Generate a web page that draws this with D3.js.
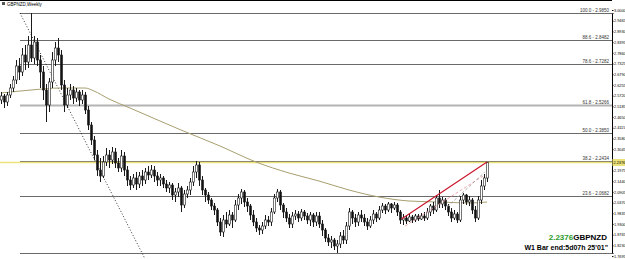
<!DOCTYPE html>
<html>
<head>
<meta charset="utf-8">
<script src="https://cdn.jsdelivr.net/npm/d3@7"></script>
<style>
  html, body { margin: 0; padding: 0; background: #fff; }
  svg { display: block; font-family: "Liberation Sans", Arial, sans-serif; }
</style>
</head>
<body>
<div id="chart"></div>
<script>
const symbol = "GBPNZD";
const timeframe = "Weekly";

// weekly bars, oldest first
const barOpen = [
  2.550, 2.570, 2.540, 2.575, 2.610, 2.650, 2.720, 2.690, 2.775, 2.740,
  2.825, 2.760, 2.840, 2.750, 2.690, 2.600, 2.525, 2.640, 2.750, 2.810,
  2.775, 2.625, 2.525, 2.575, 2.600, 2.560, 2.590, 2.550, 2.575, 2.500,
  2.425, 2.350, 2.275, 2.200, 2.170, 2.240, 2.275, 2.250, 2.290, 2.235,
  2.210, 2.270, 2.200, 2.150, 2.125, 2.160, 2.130, 2.170, 2.150, 2.190,
  2.175, 2.200, 2.170, 2.150, 2.160, 2.130, 2.110, 2.125, 2.075, 2.090,
  2.110, 2.025, 2.080, 2.100, 2.140, 2.190, 2.225, 2.150, 2.100, 2.075,
  2.050, 2.020, 2.000, 1.940, 1.890, 1.950, 1.930, 1.975, 1.950, 2.025,
  2.060, 2.090, 2.040, 2.020, 1.975, 1.940, 1.910, 1.900, 1.920, 1.950,
  1.940, 1.990, 2.060, 2.090, 2.025, 1.990, 1.960, 1.930, 1.970, 1.980,
  1.960, 1.990, 1.970, 1.950, 1.975, 1.940, 1.970, 1.930, 1.900, 1.860,
  1.840, 1.850, 1.820, 1.830, 1.870, 1.850, 1.920, 1.990, 1.960, 1.940,
  1.975, 1.960, 1.940, 1.920, 1.950, 1.980, 1.960, 2.000, 2.020, 2.000,
  2.030, 2.010, 2.025, 1.990, 1.950, 1.960, 1.945, 1.965, 1.950, 1.970,
  1.955, 1.970, 1.960, 1.990, 2.020, 2.000, 2.060, 2.030, 2.050, 2.020,
  1.990, 1.960, 1.980, 1.950, 2.050, 2.075, 2.040, 2.050, 2.000, 1.960,
  2.050, 2.120, 2.160
];
const barHigh = [
  2.590, 2.580, 2.590, 2.630, 2.670, 2.750, 2.760, 2.810, 2.825, 2.870,
  2.985, 2.870, 2.860, 2.775, 2.720, 2.630, 2.660, 2.790, 2.840, 2.860,
  2.800, 2.650, 2.610, 2.630, 2.620, 2.610, 2.600, 2.600, 2.590, 2.520,
  2.440, 2.370, 2.300, 2.260, 2.270, 2.310, 2.300, 2.315, 2.310, 2.260,
  2.300, 2.290, 2.220, 2.170, 2.180, 2.190, 2.190, 2.200, 2.210, 2.220,
  2.225, 2.220, 2.190, 2.180, 2.170, 2.150, 2.140, 2.135, 2.110, 2.135,
  2.120, 2.100, 2.120, 2.160, 2.220, 2.245, 2.240, 2.170, 2.110, 2.090,
  2.060, 2.035, 2.010, 1.960, 1.975, 1.990, 2.000, 1.990, 2.050, 2.080,
  2.105, 2.100, 2.060, 2.030, 2.000, 1.960, 1.925, 1.940, 1.975, 1.970,
  2.010, 2.080, 2.105, 2.100, 2.035, 2.010, 1.980, 1.990, 2.000, 1.995,
  2.005, 2.000, 1.985, 1.990, 1.985, 1.990, 1.990, 1.950, 1.910, 1.880,
  1.870, 1.860, 1.850, 1.890, 1.900, 1.940, 2.010, 2.000, 1.980, 1.990,
  2.000, 1.980, 1.960, 1.970, 2.000, 1.990, 2.020, 2.035, 2.030, 2.040,
  2.035, 2.040, 2.035, 2.000, 1.980, 1.975, 1.980, 1.975, 1.980, 1.980,
  1.985, 1.990, 2.010, 2.030, 2.040, 2.075, 2.100, 2.065, 2.060, 2.030,
  2.010, 2.000, 1.990, 2.070, 2.085, 2.080, 2.070, 2.060, 2.020, 2.070,
  2.150, 2.180, 2.240
];
const barLow = [
  2.530, 2.510, 2.520, 2.560, 2.590, 2.630, 2.650, 2.670, 2.700, 2.710,
  2.740, 2.730, 2.720, 2.610, 2.550, 2.440, 2.490, 2.610, 2.720, 2.740,
  2.600, 2.490, 2.510, 2.550, 2.530, 2.540, 2.520, 2.530, 2.480, 2.400,
  2.325, 2.250, 2.170, 2.140, 2.160, 2.220, 2.210, 2.230, 2.210, 2.190,
  2.190, 2.170, 2.120, 2.100, 2.110, 2.100, 2.110, 2.120, 2.130, 2.150,
  2.160, 2.140, 2.120, 2.120, 2.110, 2.090, 2.085, 2.050, 2.040, 2.065,
  1.990, 2.010, 2.060, 2.075, 2.120, 2.160, 2.120, 2.075, 2.040, 2.030,
  2.000, 1.975, 1.920, 1.870, 1.865, 1.910, 1.920, 1.910, 1.940, 2.000,
  2.030, 2.015, 1.990, 1.950, 1.920, 1.890, 1.875, 1.880, 1.905, 1.920,
  1.920, 1.980, 2.040, 2.000, 1.960, 1.940, 1.910, 1.910, 1.950, 1.940,
  1.945, 1.950, 1.930, 1.920, 1.915, 1.920, 1.910, 1.870, 1.840, 1.820,
  1.810, 1.800, 1.785, 1.810, 1.830, 1.830, 1.900, 1.930, 1.915, 1.920,
  1.940, 1.920, 1.900, 1.910, 1.930, 1.940, 1.950, 1.985, 1.980, 1.990,
  1.985, 2.000, 1.970, 1.930, 1.925, 1.930, 1.940, 1.935, 1.940, 1.945,
  1.950, 1.945, 1.950, 1.970, 1.980, 1.990, 2.010, 2.010, 2.000, 1.970,
  1.940, 1.950, 1.935, 1.940, 2.030, 2.025, 2.020, 1.980, 1.940, 1.950,
  2.030, 2.100, 2.140
];
const barClose = [
  2.570, 2.540, 2.575, 2.610, 2.650, 2.720, 2.690, 2.775, 2.740, 2.825,
  2.760, 2.840, 2.750, 2.690, 2.600, 2.525, 2.640, 2.750, 2.810, 2.775,
  2.625, 2.525, 2.575, 2.600, 2.560, 2.590, 2.550, 2.575, 2.500, 2.425,
  2.350, 2.275, 2.200, 2.170, 2.240, 2.275, 2.250, 2.290, 2.235, 2.210,
  2.270, 2.200, 2.150, 2.125, 2.160, 2.130, 2.170, 2.150, 2.190, 2.175,
  2.200, 2.170, 2.150, 2.160, 2.130, 2.110, 2.125, 2.075, 2.090, 2.110,
  2.025, 2.080, 2.100, 2.140, 2.190, 2.225, 2.150, 2.100, 2.075, 2.050,
  2.020, 2.000, 1.940, 1.890, 1.950, 1.930, 1.975, 1.950, 2.025, 2.060,
  2.090, 2.040, 2.020, 1.975, 1.940, 1.910, 1.900, 1.920, 1.950, 1.940,
  1.990, 2.060, 2.090, 2.025, 1.990, 1.960, 1.930, 1.970, 1.980, 1.960,
  1.990, 1.970, 1.950, 1.975, 1.940, 1.970, 1.930, 1.900, 1.860, 1.840,
  1.850, 1.820, 1.830, 1.870, 1.850, 1.920, 1.990, 1.960, 1.940, 1.975,
  1.960, 1.940, 1.920, 1.950, 1.980, 1.960, 2.000, 2.020, 2.000, 2.030,
  2.010, 2.025, 1.990, 1.950, 1.960, 1.945, 1.965, 1.950, 1.970, 1.955,
  1.970, 1.960, 1.990, 2.020, 2.000, 2.060, 2.030, 2.050, 2.020, 1.990,
  1.960, 1.980, 1.950, 2.050, 2.075, 2.040, 2.050, 2.000, 1.960, 2.050,
  2.120, 2.160, 2.2376
];

// 200 period moving average, read at a few bars
const maBars   = [0, 10, 20, 28, 31, 36, 43, 53, 60, 73, 85, 96, 106, 116, 126, 136, 146, 156, 162];
const maValues = [2.585, 2.600, 2.610, 2.610, 2.595, 2.555, 2.510, 2.445, 2.400, 2.320, 2.240, 2.185, 2.145, 2.100, 2.065, 2.045, 2.040, 2.035, 2.040];

// fibonacci retracement anchors (bar, price) and levels
const fibBars   = [6.33, 47];
const fibPrices = [2.985, 1.785];
const fibLevels = [0, 23.6, 38.2, 50.0, 61.8, 78.6, 88.6, 100.0];

// hand drawn lines (bar, price)
const redLineBars    = [133.5, 162];
const redLinePrices  = [1.955, 2.240];
const pinkLineBars   = [134.7, 160.7];
const pinkLinePrices = [1.920, 2.170];
const grayLineBars   = [148.7, 161.3];
const grayLinePrices = [2.015, 2.190];

// price scale labels (the one under the bid label is left out)
const axisTicks = [3.0000, 2.9465, 2.8930, 2.8395, 2.7860, 2.7325, 2.6790, 2.6255, 2.5720, 2.5185,
  2.4650, 2.4115, 2.3580, 2.3045, 2.1975, 2.1440, 2.0905, 2.0370, 1.9835,
  1.9300, 1.8765, 1.8230, 1.7695];

const bid = 2.2376;
const barEnd = "W1 Bar end:5d07h 25'01\"";

const width = 625, height = 259;
const plotRight = 612;

const svg = d3.select("#chart").append("svg")
  .attr("width", width).attr("height", height);

const x = d3.scaleLinear().domain([0, 162]).range([1, 487]);
const y = d3.scaleLinear().domain([1.785, 2.985]).range([253, 13]);

// frame
svg.append("line").attr("x1", 0).attr("x2", plotRight).attr("y1", 0.5).attr("y2", 0.5)
  .attr("stroke", "#000").attr("stroke-width", 1);

// fibonacci levels
const fibLow = fibPrices[1], fibHigh = fibPrices[0];
const fibX0 = x(fibBars[0]);
const fibG = svg.append("g");
fibLevels.forEach(lv => {
  const p = fibLow + (fibHigh - fibLow) * lv / 100;
  const yy = Math.round(y(p)) + 0.5;
  const is618 = lv === 61.8;
  fibG.append("line")
    .attr("x1", fibX0).attr("x2", plotRight)
    .attr("y1", yy).attr("y2", yy)
    .attr("stroke", is618 ? "#b4b4b4" : "#6a6a6a")
    .attr("stroke-width", is618 ? 2 : 1);
  if (lv > 0) {
    fibG.append("text")
      .attr("x", plotRight - 3).attr("y", yy - 1.5)
      .attr("text-anchor", "end")
      .attr("font-size", 4.5)
      .attr("fill", "#333")
      .text(lv.toFixed(1) + " - " + p.toFixed(4));
  }
});

// dotted fib trend line, carried on to the bottom edge
const fx0 = x(fibBars[0]), fy0 = y(fibPrices[0]);
const slope = (y(fibPrices[1]) - fy0) / (x(fibBars[1]) - fx0);
svg.append("line")
  .attr("x1", fx0).attr("y1", fy0)
  .attr("x2", fx0 + (height - fy0) / slope).attr("y2", height)
  .attr("stroke", "#000").attr("stroke-width", 0.8)
  .attr("stroke-dasharray", "1,2");

// bid line
svg.append("line")
  .attr("x1", 0).attr("x2", plotRight)
  .attr("y1", y(bid)).attr("y2", y(bid))
  .attr("stroke", "#ece27a").attr("stroke-width", 1.6);

// moving average
const maLine = d3.line()
  .x(d => x(d[0])).y(d => y(d[1]))
  .curve(d3.curveMonotoneX);
svg.append("path")
  .datum(maBars.map((b, i) => [b, maValues[i]]))
  .attr("d", maLine)
  .attr("fill", "none")
  .attr("stroke", "#a89f70")
  .attr("stroke-width", 1);

// candles
const candles = svg.append("g");
barClose.forEach((c, i) => {
  const o = barOpen[i];
  const cx = Math.round(x(i)) + 0.5;
  candles.append("line")
    .attr("x1", cx).attr("x2", cx)
    .attr("y1", y(barHigh[i])).attr("y2", y(barLow[i]))
    .attr("stroke", "#1a1a1a").attr("stroke-width", 1);
  const top = y(Math.max(o, c)), bot = y(Math.min(o, c));
  candles.append("rect")
    .attr("x", cx - 1).attr("width", 2)
    .attr("y", top).attr("height", Math.max(0.8, bot - top))
    .attr("fill", c >= o ? "#fff" : "#111")
    .attr("stroke", "#1a1a1a").attr("stroke-width", 0.6);
});

// drawn lines
function seg(bars, prices, color, dash, w) {
  svg.append("line")
    .attr("x1", x(bars[0])).attr("y1", y(prices[0]))
    .attr("x2", x(bars[1])).attr("y2", y(prices[1]))
    .attr("stroke", color).attr("stroke-width", w)
    .attr("stroke-dasharray", dash);
}
seg(pinkLineBars, pinkLinePrices, "#e8909a", "3,2", 0.8);
seg(grayLineBars, grayLinePrices, "#999", "3,2", 0.8);
seg(redLineBars, redLinePrices, "#c8142a", null, 1.2);

// price axis
const axis = d3.axisRight(y)
  .tickValues(axisTicks)
  .tickFormat(d3.format(".4f"))
  .tickSize(1.5);
const axG = svg.append("g")
  .attr("transform", `translate(${plotRight},0)`)
  .call(axis);
axG.select(".domain").attr("stroke", "#000");
axG.selectAll("text").attr("font-size", 3.8).attr("x", 2).attr("fill", "#000");
axG.selectAll("line").attr("stroke", "#000");

// bid label on axis
const bidG = svg.append("g").attr("transform", `translate(${plotRight},${y(bid)})`);
bidG.append("rect").attr("x", 0.5).attr("y", -3.5).attr("width", 12.5).attr("height", 7)
  .attr("fill", "#ece27a");
bidG.append("text").attr("x", 1.5).attr("y", 1.5).attr("font-size", 3.8).attr("fill", "#000")
  .text(bid.toFixed(4));

// title
svg.append("rect").attr("x", 2).attr("y", 2).attr("width", 3).attr("height", 3).attr("fill", "#555");
svg.append("text").attr("x", 7).attr("y", 6).attr("font-size", 4.5).attr("fill", "#000")
  .text(symbol + "," + timeframe);

// bottom right info
const info = svg.append("text").attr("x", 607).attr("y", 240)
  .attr("text-anchor", "end").attr("font-size", 8).attr("font-weight", "bold");
info.append("tspan").attr("fill", "#2a9a2a").text(bid.toFixed(4));
info.append("tspan").attr("fill", "#000").text(symbol);
svg.append("text").attr("x", 608).attr("y", 250)
  .attr("text-anchor", "end").attr("font-size", 7).attr("font-weight", "bold")
  .attr("fill", "#000").text(barEnd);
</script>
</body>
</html>
